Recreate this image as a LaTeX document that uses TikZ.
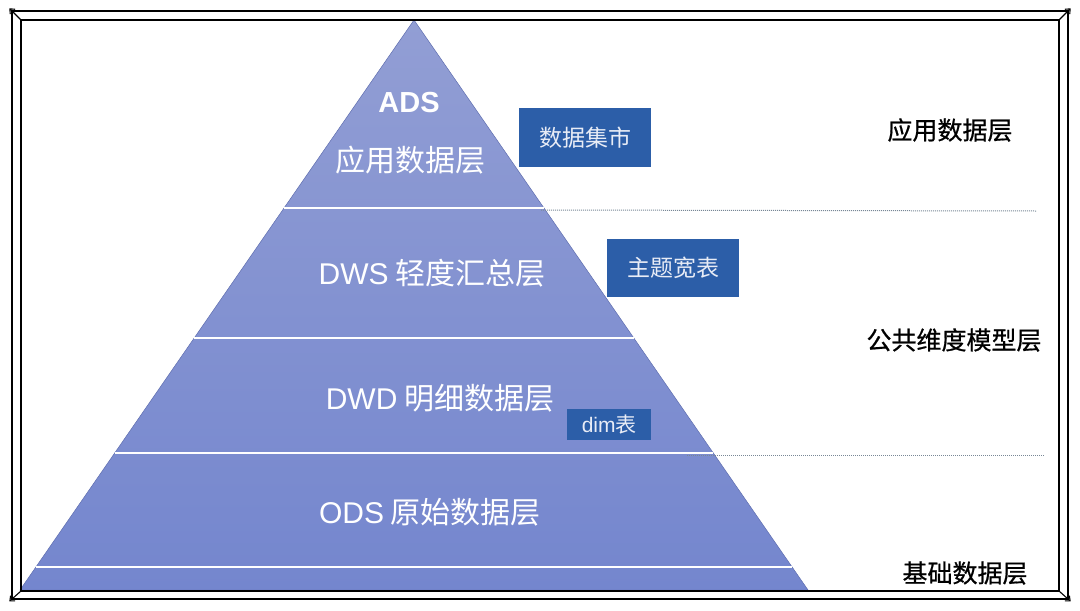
\documentclass[tikz,border=0pt]{standalone}
\usepackage{fontspec}
\setmainfont{Noto Sans CJK SC}
\newfontfamily\lat{Liberation Sans}
\newfontfamily\sidefont{Noto Sans CJK SC}[FakeBold=0.7]
\usetikzlibrary{calc,arrows.meta}
\definecolor{boxblue}{RGB}{44,94,168}
\definecolor{pyrtop}{RGB}{146,158,212}
\definecolor{pyrbot}{RGB}{116,134,206}
\definecolor{pyredge}{RGB}{95,110,175}
\definecolor{boxtext}{RGB}{232,236,246}
\definecolor{guidegray}{RGB}{120,135,150}
\tikzset{
  frameline/.style={line width=1.3pt, black},
  cornerline/.style={line width=1.1pt, black, -{Straight Barb[length=4pt,width=7pt]}},
  layersep/.style={white, line width=1.6pt},
  guide/.style={guidegray, line width=1pt, dash pattern=on 1pt off 1pt},
  pyrtext/.style={text=white, font=\fontsize{30}{32}\selectfont, inner sep=0pt},
  sidetext/.style={text=black, font=\sidefont\fontsize{25}{28}\selectfont, inner sep=0pt},
  tagbox/.style={fill=boxblue, text=boxtext, inner sep=0pt, anchor=north west},
}
\begin{document}
\begin{tikzpicture}[x=1pt,y=-1pt]
\useasboundingbox (0,0) rectangle (1080,611);
% frame
\coordinate (o1) at (12,11);
\coordinate (o2) at (1068,11);
\coordinate (o3) at (1068,599);
\coordinate (o4) at (12,599);
\coordinate (i1) at (21,20);
\coordinate (i2) at (1059,20);
\coordinate (i3) at (1059,591);
\coordinate (i4) at (21,591);
% pyramid
\coordinate (A) at (414,20);
\coordinate (BL) at (20,590);
\coordinate (BR) at (808,590);
\shade[top color=pyrtop, bottom color=pyrbot, draw=pyredge, line width=0.5pt] (A) -- (BR) -- (BL) -- cycle;
\foreach \t in {0.3298,0.5579,0.7596,0.9596}
  \draw[layersep] ($(A)!\t!(BL)$) -- ($(A)!\t!(BR)$);
\draw[frameline] (o1) rectangle (o3);
\draw[frameline] (i1) rectangle (i3);
\draw[cornerline] (i1) -- ($(i1)!1.3!(o1)$);
\draw[cornerline] (i2) -- ($(i2)!1.3!(o2)$);
\draw[cornerline] (i3) -- ($(i3)!1.3!(o3)$);
\draw[cornerline] (i4) -- ($(i4)!1.3!(o4)$);
% dotted guides
\coordinate (g1a) at (541,210);
\coordinate (g1b) at (1037,211);
\coordinate (g2a) at (687,455);
\coordinate (g2b) at (1045,455);
\draw[guide] (g1a) -- (g1b);
\draw[guide] (g2a) -- (g2b);
% pyramid labels
\node[pyrtext, font=\lat\bfseries\fontsize{29}{30}\selectfont] (ads) at (409,103) {ADS};
\node[pyrtext] (adsl) at (410,160) {应用数据层};
\node[pyrtext] (dws) at (432,273) {{\lat DWS} 轻度汇总层};
\node[pyrtext] (dwd) at (440,398) {{\lat DWD} 明细数据层};
\node[pyrtext] (ods) at (430,512) {{\lat ODS} 原始数据层};
% tag boxes
\node[tagbox, minimum width=132pt, minimum height=59pt, font=\fontsize{23}{25}\selectfont] (mart) at (519,108) {数据集市};
\node[tagbox, minimum width=132pt, minimum height=58pt, font=\fontsize{23}{25}\selectfont] (wide) at (607,239) {主题宽表};
\node[tagbox, minimum width=84pt, minimum height=31pt, font=\fontsize{21}{23}\selectfont] (dim) at (567,409) {{\lat dim}表};
% side labels
\node[sidetext] (s1) at (950,130) {应用数据层};
\node[sidetext] (s2) at (954,340) {公共维度模型层};
\node[sidetext] (s3) at (965,573) {基础数据层};
\end{tikzpicture}
\end{document}
